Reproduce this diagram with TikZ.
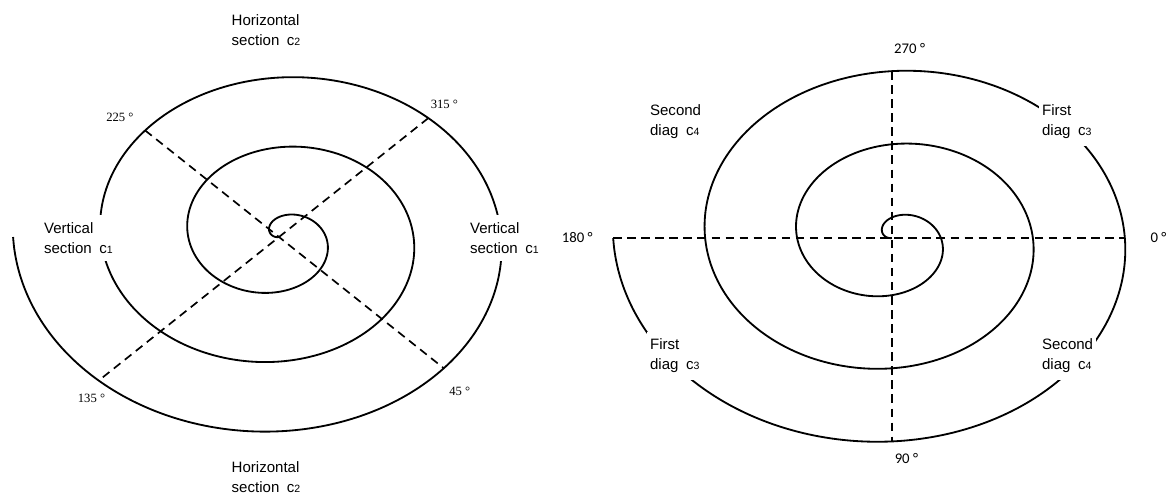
\documentclass[tikz,border=0pt]{standalone}
\usepackage{fontspec}
\setmainfont{Liberation Sans}
\newfontfamily\angserif{Liberation Serif}
\newfontfamily\angsans{Carlito}
\usetikzlibrary{positioning}
\newcommand{\cidx}[1]{c{\fontsize{7.5}{9}\selectfont #1}}

\tikzset{
  spiral/.style={line width=1.3pt, line join=round},
  diagline/.style={line width=1.2pt, dash pattern=on 6pt off 4pt},
  seclabel/.style={fill=white, align=left, anchor=west, inner xsep=2pt, inner ysep=5pt,
    font=\fontsize{10.7}{14.2}\selectfont},
  anglabel/.style={inner sep=1pt, font=\angserif\fontsize{9}{10}\selectfont},
  axlabel/.style={inner sep=1pt, font=\angsans\fontsize{10.5}{12}\selectfont},
}

\begin{document}
\begin{tikzpicture}
  \useasboundingbox (0,0) rectangle (29.175,12.375);

  % === SECTIONS (left) ===
  \begin{scope}[shift={(6.975,6.45)}, declare function={spr(\a)=\a*pi/180+3.37;}]
    \draw[spiral] plot[domain=-193:900, samples=400, smooth, variable=\t]
      ({0.3485*spr(\t)*cos(\t)}, {-0.2775*spr(\t)*sin(\t)});

    % points on the outer turn
    \coordinate (L225) at ({0.3485*spr(585)*cos(585)}, {-0.2775*spr(585)*sin(585)});
    \coordinate (L315) at ({0.3485*spr(675)*cos(675)}, {-0.2775*spr(675)*sin(675)});
    \coordinate (L45) at ({0.3485*spr(765)*cos(765)}, {-0.2775*spr(765)*sin(765)});
    \coordinate (L135) at ({0.3485*spr(855)*cos(855)}, {-0.2775*spr(855)*sin(855)});

    \draw[diagline] (L225) -- (L45);
    \draw[diagline] (L315) -- (L135);

    \node[anglabel, above left=0.17cm and 0.25cm of L225] (a225) {225 °};
    \node[anglabel, above right=0.2cm and 0.02cm of L315] (a315) {315 °};
    \node[anglabel, below=0.3cm of L135, xshift=-0.18cm] (a135) {135 °};
    \node[anglabel, below=0.42cm of L45, xshift=0.4cm] (a45) {45 °};

    \node[seclabel, anchor=center] (htop) at (-0.325,5.175) {Horizontal\\section\enspace\cidx{2}};
    \node[seclabel, anchor=center] (hbot) at (-0.325,-6.0) {Horizontal\\section\enspace\cidx{2}};
    \node[seclabel] (vleft) at (-5.95,-0.025) {Vertical\\section\enspace\cidx{1}};
    \node[seclabel] (vright) at (4.7,-0.025) {Vertical\\section\enspace\cidx{1}};
  \end{scope}

  % === DIAGONALS (right) ===
  \begin{scope}[shift={(22.3,6.425)}, declare function={spr(\a)=\a*pi/180+3.34;}]
    \draw[spiral] plot[domain=-191:900, samples=400, smooth, variable=\t]
      ({0.366*spr(\t)*cos(\t)}, {-0.291*spr(\t)*sin(\t)});

    \coordinate (R270) at ({0.366*spr(630)*cos(630)}, {-0.291*spr(630)*sin(630)});
    \coordinate (R0) at ({0.366*spr(720)*cos(720)}, {-0.291*spr(720)*sin(720)});
    \coordinate (R90) at ({0.366*spr(810)*cos(810)}, {-0.291*spr(810)*sin(810)});
    \coordinate (R180) at ({0.366*spr(900)*cos(900)}, {-0.291*spr(900)*sin(900)});

    \draw[diagline] (R180) -- (R0);
    \draw[diagline] (R270) -- (R90);

    \node[axlabel, above=0.4cm of R270, xshift=0.44cm] (a270) {270 °};
    \node[axlabel, below=0.25cm of R90, xshift=0.36cm] (a90) {90 °};
    \node[axlabel, left=0.47cm of R180] (a180) {180 °};
    \node[axlabel, right=0.6cm of R0] (a0) {0 °};

    \node[seclabel] (dtl) at (-6.125,2.9125) {Second\\diag\enspace\cidx{4}};
    \node[seclabel] (dtr) at (3.675,2.9125) {First\\diag\enspace\cidx{3}};
    \node[seclabel] (dbl) at (-6.125,-2.95) {First\\diag\enspace\cidx{3}};
    \node[seclabel] (dbr) at (3.675,-2.95) {Second\\diag\enspace\cidx{4}};
  \end{scope}
\end{tikzpicture}
\end{document}
